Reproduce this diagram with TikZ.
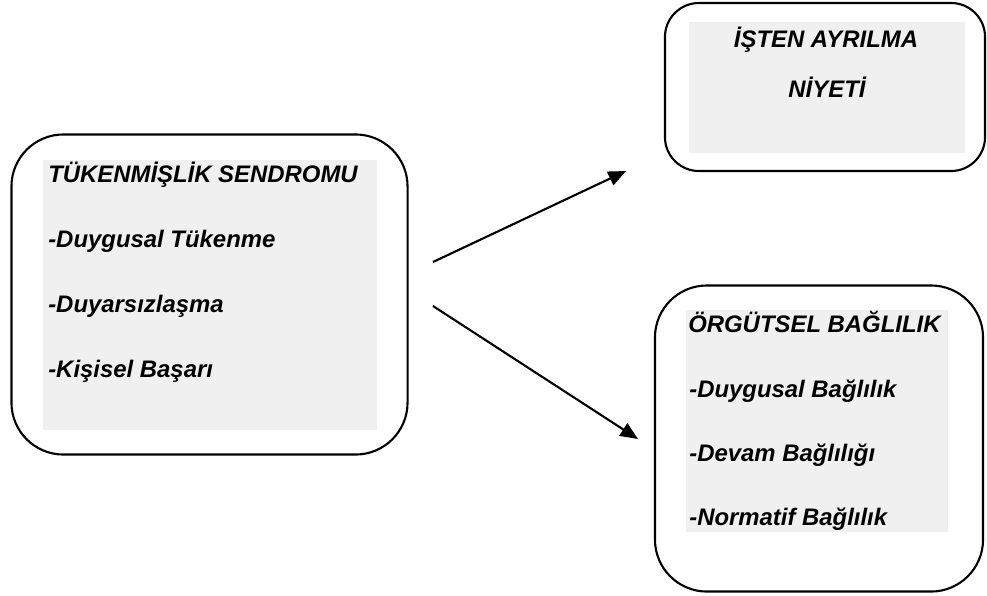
\documentclass[tikz,border=0pt]{standalone}
\usepackage{fontspec}
\setmainfont{Liberation Sans}
\usepackage{tikz}
\usetikzlibrary{arrows.meta}
\definecolor{boxgrey}{RGB}{240,240,240}
\tikzset{
	frame/.style = {draw, line width=1.5pt, rounded corners=#1, inner sep=0pt},
	shade/.style = {fill=boxgrey, inner sep=0pt},
	label/.style = {inner sep=0pt, font=\fontsize{17}{20}\selectfont\bfseries\itshape},
	link/.style = {line width=1.5pt, -{Triangle[length=12.5pt,width=10.5pt]}}
}

\begin{document}
\begin{tikzpicture}[x=0.025cm, y=-0.025cm]
			%\draw [help lines] (0,0) grid (987,595);
			\useasboundingbox (0,0) rectangle (987,595);
			% left box
			\node [frame=1.3cm, minimum width=9.9cm, minimum height=8.0cm] (burnout) at (209.5,294.5) {};
			\node [shade, minimum width=8.35cm, minimum height=6.75cm] (burnoutbg) at (210,295) {};
			\node [label, anchor=base west] (b0) at (48,182) {TÜKENMİŞLİK SENDROMU};
			\node [label, anchor=base west] (b1) at (48,247) {-Duygusal Tükenme};
			\node [label, anchor=base west] (b2) at (48,312) {-Duyarsızlaşma};
			\node [label, anchor=base west] (b3) at (48,377) {-Kişisel Başarı};
			% top right box
			\node [frame=0.85cm, minimum width=8.0cm, minimum height=4.2cm] (quit) at (825,87) {};
			\node [shade, minimum width=6.9cm, minimum height=3.28cm] (quitbg) at (827,87.5) {};
			\node [label, anchor=base] (q0) at (826,47) {İŞTEN AYRILMA};
			\node [label, anchor=base] (q1) at (827,97) {NİYETİ};
			% bottom right box
			\node [frame=1.3cm, minimum width=8.2cm, minimum height=7.65cm] (commit) at (819,438.5) {};
			\node [shade, minimum width=6.55cm, minimum height=5.55cm] (commitbg) at (817,421) {};
			\node [label, anchor=base west] (c0) at (688,332) {ÖRGÜTSEL BAĞLILIK};
			\node [label, anchor=base west] (c1) at (689,397) {-Duygusal Bağlılık};
			\node [label, anchor=base west] (c2) at (689,461) {-Devam Bağlılığı};
			\node [label, anchor=base west] (c3) at (689,525) {-Normatif Bağlılık};
			% arrows
			\coordinate (up start) at (433,262);
			\coordinate (up end) at (626,171);
			\coordinate (down start) at (433,306);
			\coordinate (down end) at (638,439);
			\draw [link] (up start) -- (up end);
			\draw [link] (down start) -- (down end);
\end{tikzpicture}
\end{document}
